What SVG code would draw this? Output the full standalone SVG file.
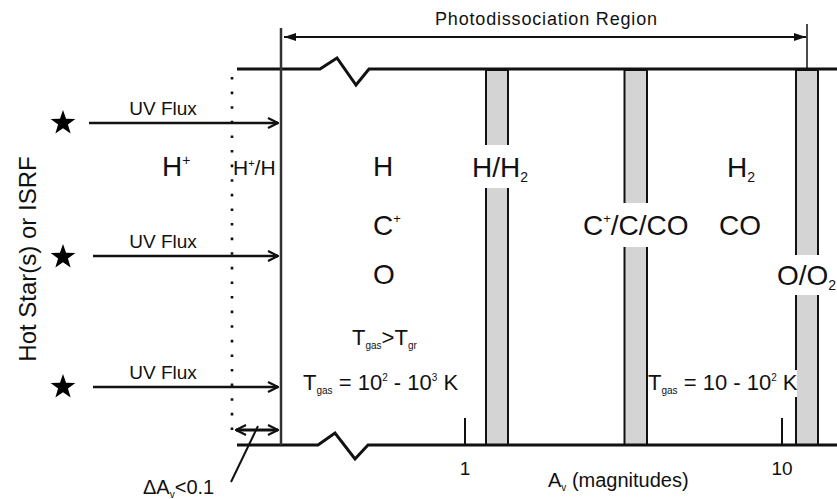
<svg xmlns="http://www.w3.org/2000/svg" xmlns:xlink="http://www.w3.org/1999/xlink" width="837" height="499" viewBox="0 0 837 499">
<style>
.t{font-family:"Liberation Sans",Arial,sans-serif;fill:#111}
.ln{stroke:#111;fill:none}
.bar{fill:#d4d4d4;stroke:#111;stroke-width:2}
.gap{fill:#fff}
</style>
<defs>
<marker id="open" viewBox="0 0 12 12" refX="11" refY="6" markerWidth="12" markerHeight="12" markerUnits="userSpaceOnUse" orient="auto-start-reverse"><path d="M1,1 L11,6 L1,11" fill="none" stroke="#111" stroke-width="2.2"/></marker>
<marker id="solid" viewBox="0 0 12 8" refX="12" refY="4" markerWidth="12" markerHeight="8" markerUnits="userSpaceOnUse" orient="auto-start-reverse"><path d="M0,0 L12,4 L0,8 z" fill="#111"/></marker>
<polygon id="star" points="0,-13 3.06,-4.2 12.36,-4.02 4.94,1.6 7.64,10.52 0,5.2 -7.64,10.52 -4.94,1.6 -12.36,-4.02 -3.06,-4.2" fill="#000"/>
</defs>
<rect width="837" height="499" fill="#fff"/>

<g id="bars">
<rect class="bar" x="486" y="70" width="22" height="375"/>
<rect class="bar" x="624.5" y="70" width="22.5" height="375"/>
<rect class="bar" x="796" y="70" width="22" height="375"/>
<rect class="gap" x="483" y="145" width="28" height="43"/>
<rect class="gap" x="621" y="203" width="29" height="44"/>
<rect class="gap" x="793" y="255" width="28" height="40"/>
<rect class="gap" x="649" y="370" width="148" height="27"/>
</g>

<g id="boundaries">
<polyline class="ln" stroke-width="3" points="237,69 320,69 337,58 356,85 369,69 837,69"/>
<polyline class="ln" stroke-width="3" points="237,445 318,445 335,433 355,459 368,445 837,445"/>
<line x1="281" y1="28" x2="281" y2="445" stroke="#333" stroke-width="2.5"/>
<line x1="232" y1="77" x2="232" y2="442" stroke="#111" stroke-width="2.6" stroke-dasharray="2.6 12"/>
<line x1="807" y1="24" x2="807" y2="69" stroke="#111" stroke-width="1.5"/>
<line x1="465" y1="418" x2="465" y2="445" stroke="#111" stroke-width="2"/>
<line x1="782" y1="418" x2="782" y2="445" stroke="#111" stroke-width="2"/>
</g>

<g id="connectors">
<line class="ln" stroke-width="2" x1="284" y1="37" x2="806" y2="37" marker-start="url(#solid)" marker-end="url(#solid)"/>
<line class="ln" stroke-width="2.5" x1="89" y1="123" x2="278" y2="123" marker-end="url(#open)"/>
<line class="ln" stroke-width="2.5" x1="93" y1="256" x2="278" y2="256" marker-end="url(#open)"/>
<line class="ln" stroke-width="2.5" x1="93" y1="387" x2="278" y2="387" marker-end="url(#open)"/>
<line class="ln" stroke-width="3" x1="236" y1="430" x2="278" y2="430" marker-start="url(#open)" marker-end="url(#open)"/>
<line class="ln" stroke-width="2" x1="258" y1="426" x2="231" y2="482"/>
</g>

<g id="sources">
<use xlink:href="#star" x="63" y="123"/>
<use xlink:href="#star" x="63" y="257"/>
<use xlink:href="#star" x="63" y="387"/>
<text class="t" font-size="24" text-anchor="middle" transform="translate(36,259) rotate(-90)">Hot Star(s) or ISRF</text>
<text class="t" font-size="19" x="163" y="115" text-anchor="middle">UV Flux</text>
<text class="t" font-size="19" x="163" y="248" text-anchor="middle">UV Flux</text>
<text class="t" font-size="19" x="163" y="379" text-anchor="middle">UV Flux</text>
</g>

<g id="title">
<text class="t" font-size="18" x="435" y="25" textLength="222" lengthAdjust="spacing">Photodissociation Region</text>
</g>

<g id="zone-hplus">
<text class="t" font-size="28" x="162" y="176">H<tspan font-size="14" dy="-11">+</tspan></text>
</g>
<g id="zone-hplus-h">
<text class="t" font-size="21" x="233" y="175">H<tspan font-size="11" dy="-8">+</tspan><tspan dy="8">/H</tspan></text>
</g>
<g id="zone-atomic">
<text class="t" font-size="28" x="373" y="176">H</text>
<text class="t" font-size="28" x="373" y="235">C<tspan font-size="13" dy="-12">+</tspan></text>
<text class="t" font-size="28" x="373" y="284">O</text>
<text class="t" font-size="22" x="352" y="345">T<tspan font-size="10" dy="4">gas</tspan><tspan dy="-4">&gt;T</tspan><tspan font-size="10" dy="4">gr</tspan></text>
<text class="t" font-size="22" x="303" y="390">T<tspan font-size="10" dy="4">gas</tspan><tspan dy="-4"> = 10</tspan><tspan font-size="10" dy="-9">2</tspan><tspan dy="9"> - 10</tspan><tspan font-size="10" dy="-9">3</tspan><tspan dy="9"> K</tspan></text>
</g>
<g id="zone-h-h2">
<text class="t" font-size="28" x="472" y="177">H/H<tspan font-size="14" dy="5">2</tspan></text>
</g>
<g id="zone-c-co">
<text class="t" font-size="28" x="583" y="235">C<tspan font-size="13" dy="-12">+</tspan><tspan dy="12">/C/CO</tspan></text>
</g>
<g id="zone-molecular">
<text class="t" font-size="28" x="727" y="177">H<tspan font-size="14" dy="5">2</tspan></text>
<text class="t" font-size="28" x="719" y="235">CO</text>
<text class="t" font-size="22" x="648" y="390">T<tspan font-size="10" dy="4">gas</tspan><tspan dy="-4"> = 10 - 10</tspan><tspan font-size="10" dy="-9">2</tspan><tspan dy="9"> K</tspan></text>
</g>
<g id="zone-o-o2">
<text class="t" font-size="28" x="777" y="285">O/O<tspan font-size="14" dy="5">2</tspan></text>
</g>

<g id="axis">
<text class="t" font-size="19" x="465" y="475" text-anchor="middle">1</text>
<text class="t" font-size="19" x="782" y="475" text-anchor="middle">10</text>
<text class="t" font-size="20" x="548" y="487">A<tspan font-size="10" dy="4">v</tspan><tspan dy="-4"> (magnitudes)</tspan></text>
<text class="t" font-size="20" x="143" y="494">ΔA<tspan font-size="10" dy="4">v</tspan><tspan dy="-4">&lt;0.1</tspan></text>
</g>
</svg>
